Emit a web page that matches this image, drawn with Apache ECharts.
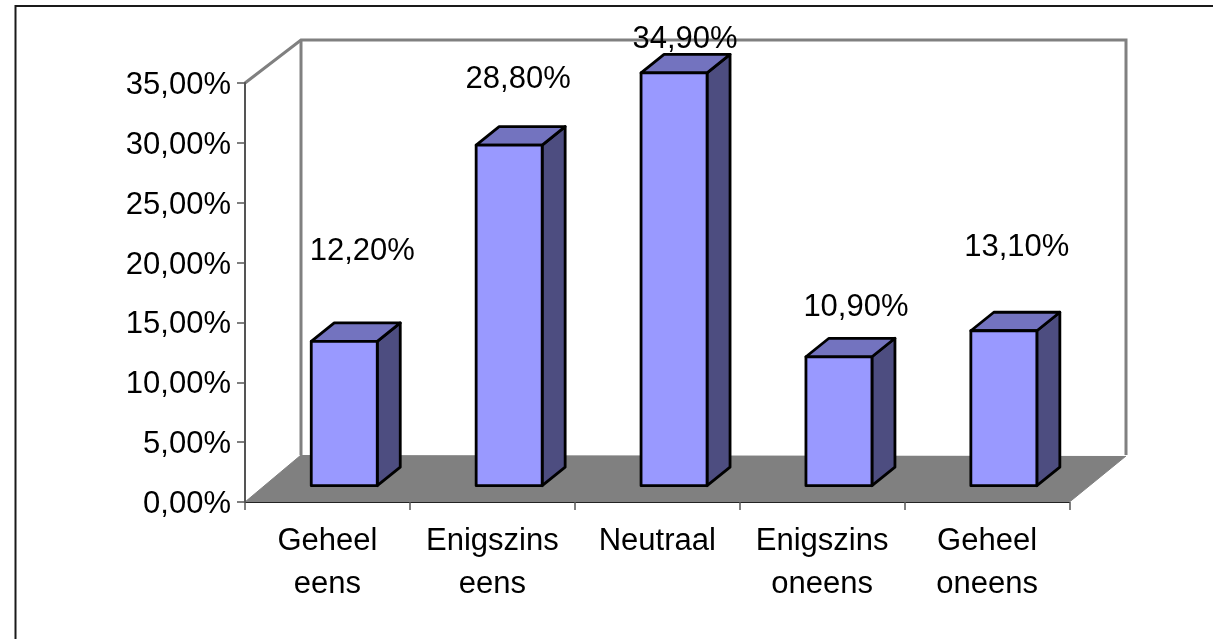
<!DOCTYPE html>
<html>
<head>
<meta charset="utf-8">
<style>html,body{margin:0;padding:0;background:#fff}#chart{width:1213px;height:639px}</style>
<script src="https://cdn.jsdelivr.net/npm/echarts@6/dist/echarts.min.js"></script>
</head>
<body>
<div id="chart"></div>
<script>
const categories = ['Geheel\neens', 'Enigszins\neens', 'Neutraal', 'Enigszins\noneens', 'Geheel\noneens'];
const values = [0.122, 0.288, 0.349, 0.109, 0.131];
const yTicks = { min: 0, max: 0.35, interval: 0.05 };

// Pixel offsets of each hand-placed value label, from the top-centre of its bar.
const labelDx = [18, 9, 11, 17, 13];
const labelDy = [-90, -66, -33, -49, -83];

const FONT = '"Liberation Sans", Arial, sans-serif';
const FONT_SIZE = 31;
const wall = { dx: 56, dyTop: -43, dyBottom: -47 };
const barPlane = { dx: 16.8, dy: -16.3, scale: 0.988, width: 66, depthX: 23, depthY: -18.5 };

const fmt = v => (v * 100).toFixed(2).replace('.', ',') + '%';

function renderWalls(params, api) {
  const c = params.coordSys;
  const x0 = c.x, x1 = c.x + c.width, yT = c.y, yB = c.y + c.height;
  const bx0 = x0 + wall.dx, bx1 = x1 + wall.dx + 0.5, byT = yT + wall.dyTop, byB = yB + wall.dyBottom;
  const line = { stroke: '#808080', lineWidth: 3, fill: null };
  return {
    type: 'group',
    children: [
      { type: 'polygon', shape: { points: [[x0, yB], [x1, yB], [bx1, byB + 1], [bx0, byB]] }, style: { fill: '#808080' } },
      { type: 'polyline', shape: { points: [[x0, yT], [bx0, byT], [bx1, byT], [bx1, byB]] }, style: line },
      { type: 'line', shape: { x1: bx0, y1: byT, x2: bx0, y2: byB }, style: line },
      { type: 'line', shape: { x1: x0, y1: yB, x2: bx0, y2: byB }, style: { stroke: '#808080', lineWidth: 1 } },
      { type: 'line', shape: { x1: x1, y1: yB, x2: bx1, y2: byB + 1 }, style: { stroke: '#808080', lineWidth: 1 } }
    ]
  };
}

function renderBar(params, api) {
  const i = api.value(0), v = api.value(1);
  const p = api.coord([i, v]), p0 = api.coord([i, 0]);
  const h = (p0[1] - p[1]) * barPlane.scale;
  const cx = p[0] + barPlane.dx;
  const l = cx - barPlane.width / 2, r = cx + barPlane.width / 2;
  const b = p0[1] + barPlane.dy, t = b - h;
  const dx = barPlane.depthX, dy = barPlane.depthY;
  const stroke = { stroke: '#000', lineWidth: 2.8, lineJoin: 'round' };
  return {
    type: 'group',
    children: [
      { type: 'polygon', shape: { points: [[r, t], [r + dx, t + dy], [r + dx, b + dy], [r, b]] }, style: { fill: '#4D4D80', ...stroke } },
      { type: 'polygon', shape: { points: [[l, t], [l + dx, t + dy], [r + dx, t + dy], [r, t]] }, style: { fill: '#7373BF', ...stroke } },
      { type: 'rect', shape: { x: l, y: t, width: r - l, height: b - t }, style: { fill: '#9999FF', ...stroke } },
      { type: 'text', style: { x: cx + labelDx[i], y: t + labelDy[i], text: fmt(v), fill: '#000', font: FONT_SIZE + 'px ' + FONT, align: 'center', verticalAlign: 'middle' }, z2: 10 }
    ]
  };
}

const chart = echarts.init(document.getElementById('chart'), null, { renderer: 'canvas' });
chart.setOption({
  animation: false,
  backgroundColor: '#fff',
  graphic: [{
    type: 'polyline', silent: true,
    shape: { points: [[15.5, 639], [15.5, 6], [1213, 6]] },
    style: { stroke: '#1a1a1a', lineWidth: 2, fill: null }
  }],
  grid: { left: 245, top: 83, width: 824.5, height: 419, containLabel: false },
  xAxis: {
    type: 'category', data: categories, z: 5,
    axisLine: { lineStyle: { color: '#222', width: 1.2 } },
    axisTick: { show: true, alignWithLabel: false, length: 8, lineStyle: { color: '#555', width: 1.5 } },
    axisLabel: { color: '#000', fontFamily: FONT, fontSize: FONT_SIZE, lineHeight: 43, margin: 18, interval: 0 }
  },
  yAxis: {
    type: 'value', min: yTicks.min, max: yTicks.max, interval: yTicks.interval, z: 5,
    splitLine: { show: false },
    axisLine: { show: true, lineStyle: { color: '#555', width: 2 } },
    axisTick: { show: true, length: 8, lineStyle: { color: '#555', width: 1.5 } },
    axisLabel: {
      color: '#000', margin: 14,
      formatter: v => '{t|' + fmt(v) + '}',
      rich: { t: { color: '#000', fontFamily: FONT, fontSize: FONT_SIZE, padding: [5, 0, 0, 0] } }
    }
  },
  series: [
    { type: 'custom', name: 'walls', silent: true, clip: false, z: 1, renderItem: renderWalls, encode: { x: 0, y: 1 }, data: [[0, 0]] },
    { type: 'custom', name: 'bars', silent: true, clip: false, z: 3, renderItem: renderBar, encode: { x: 0, y: 1 }, data: values.map((v, i) => [i, v]) }
  ]
});
</script>
</body>
</html>
